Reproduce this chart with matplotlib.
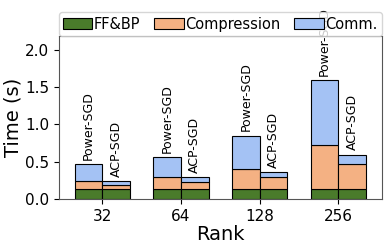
import numpy as np
import matplotlib
matplotlib.use('Agg')
from matplotlib import pyplot as plt

ranks = ['32', '64', '128', '256']
methods = ['Power-SGD', 'ACP-SGD']
# time in seconds, per rank
power_ffbp = [0.13, 0.13, 0.13, 0.13]
power_comp = [0.11, 0.16, 0.27, 0.59]
power_comm = [0.225, 0.27, 0.45, 0.87]
acp_ffbp = [0.13, 0.13, 0.13, 0.13]
acp_comp = [0.06, 0.10, 0.16, 0.34]
acp_comm = [0.05, 0.06, 0.07, 0.12]

c_ffbp = '#4a7b2b'
c_comp = '#f4b183'
c_comm = '#a4c2f4'

fig = plt.figure(figsize=(3.9, 2.47), dpi=100)
ax = fig.add_axes([0.151, 0.194, 0.828, 0.66])

x = np.arange(len(ranks))
w = 0.35
series = [
    (x - w / 2, power_ffbp, power_comp, power_comm, methods[0]),
    (x + w / 2, acp_ffbp, acp_comp, acp_comm, methods[1]),
]
for i, (pos, ff, cp, cm, name) in enumerate(series):
    ff = np.array(ff)
    cp = np.array(cp)
    cm = np.array(cm)
    ax.bar(pos, ff, w, color=c_ffbp, edgecolor='black', linewidth=0.8,
           label='FF&BP' if i == 0 else None)
    ax.bar(pos, cp, w, bottom=ff, color=c_comp, edgecolor='black', linewidth=0.8,
           label='Compression' if i == 0 else None)
    ax.bar(pos, cm, w, bottom=ff + cp, color=c_comm, edgecolor='black', linewidth=0.8,
           label='Comm.' if i == 0 else None)
    for p, top in zip(pos, ff + cp + cm):
        ax.text(p, top + 0.06, name, rotation=90, ha='center', va='bottom', fontsize=9)

ax.set_ylim(0, 2.18)
ax.set_xlim(-0.55, 3.55)
ax.set_yticks([0.0, 0.5, 1.0, 1.5, 2.0])
ax.set_xticks(x)
ax.set_xticklabels(ranks)
ax.tick_params(labelsize=11)
ax.set_xlabel('Rank', fontsize=14, labelpad=1)
ax.set_ylabel('Time (s)', fontsize=14, labelpad=2)
for s in ax.spines.values():
    s.set_color('#555555')

ax.legend(loc='lower left', bbox_to_anchor=(0, 1.0, 1, 0.1), mode='expand', ncol=3,
          fontsize=10.5, handletextpad=0.1, borderaxespad=0, borderpad=0.3,
          fancybox=True)

fig.savefig('out.png', dpi=100)
